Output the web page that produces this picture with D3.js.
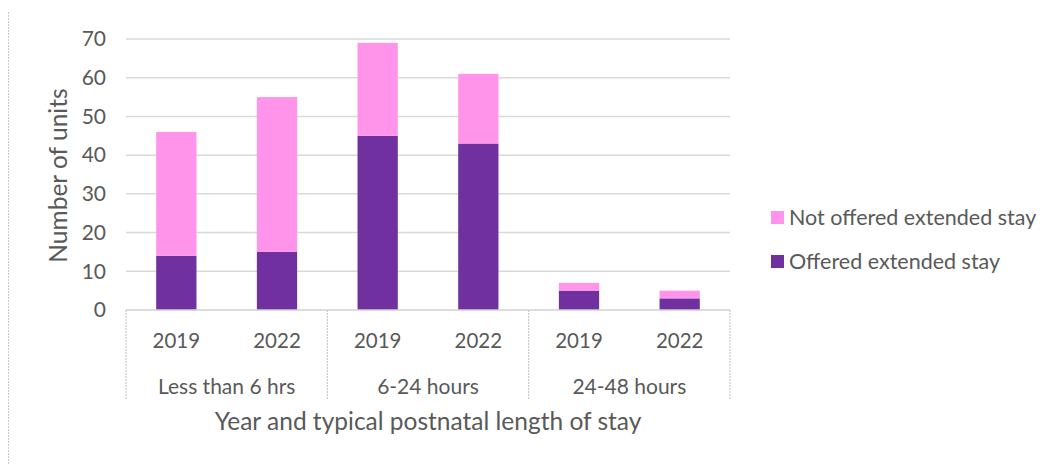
<!DOCTYPE html>
<html>
<head>
<meta charset="utf-8">
<script src="https://cdn.jsdelivr.net/npm/d3@7"></script>
<style>
  body { margin: 0; background: #fff; }
  text { font-family: Lato, "Open Sans", sans-serif; fill: #595959; }
</style>
</head>
<body>
<script>
var groups = ["Less than 6 hrs", "6-24 hours", "24-48 hours"];
var years = ["2019", "2022"];
var offered = [14, 15, 45, 43, 5, 3];
var notOffered = [32, 40, 24, 18, 2, 2];
var yTicks = [0, 10, 20, 30, 40, 50, 60, 70];
var seriesNames = ["Not offered extended stay", "Offered extended stay"];
var colors = { offered: "#7030a0", notOffered: "#ff94ea" };

var W = 1058, H = 464;
var margin = { top: 39, left: 126, right: 328, bottom: 154 };
var width = W - margin.left - margin.right;
var height = H - margin.top - margin.bottom;

var svg = d3.select("body").append("svg")
    .attr("width", W)
    .attr("height", H);

// chart frame edge (dotted)
svg.append("line")
    .attr("x1", 8.5).attr("x2", 8.5)
    .attr("y1", 12).attr("y2", H)
    .attr("stroke", "#c8c8c8")
    .attr("stroke-dasharray", "2,1");

var g = svg.append("g")
    .attr("transform", "translate(" + margin.left + "," + margin.top + ")");

var data = [];
groups.forEach(function(grp, i) {
  years.forEach(function(yr, j) {
    var k = i * years.length + j;
    data.push({ group: grp, year: yr, offered: offered[k], notOffered: notOffered[k] });
  });
});

var x0 = d3.scaleBand().domain(groups).range([0, width]);
var x1 = d3.scaleBand().domain(years).range([0, x0.bandwidth()]).paddingInner(0.6).paddingOuter(0.3);

var y = d3.scaleLinear().domain([0, 70]).range([height, 0]);

// gridlines
g.selectAll(".grid")
    .data(yTicks.slice(1))
  .enter().append("line")
    .attr("x1", 0).attr("x2", width)
    .attr("y1", function(d) { return y(d); })
    .attr("y2", function(d) { return y(d); })
    .attr("stroke", "#d9d9d9")
    .attr("stroke-width", 1.5);

// y axis labels
var yAxis = d3.axisLeft(y).tickValues(yTicks).tickSize(0).tickPadding(20);
var yg = g.append("g").call(yAxis);
yg.select(".domain").remove();
yg.selectAll("text")
    .style("font-size", "21px")
    .style("fill", "#595959")
    .style("font-family", "Lato, sans-serif");

// bars
var stack = d3.stack().keys(["offered", "notOffered"]);
var series = stack(data);

g.selectAll(".series")
    .data(series)
  .enter().append("g")
    .attr("fill", function(d) { return colors[d.key]; })
  .selectAll("rect")
    .data(function(d) { return d; })
  .enter().append("rect")
    .attr("x", function(d) { return x0(d.data.group) + x1(d.data.year); })
    .attr("width", x1.bandwidth())
    .attr("y", function(d) { return y(d[1]); })
    .attr("height", function(d) { return y(d[0]) - y(d[1]); });

// baseline
g.append("line")
    .attr("x1", 0).attr("x2", width)
    .attr("y1", height).attr("y2", height)
    .attr("stroke", "#d0d0d0")
    .attr("stroke-width", 1.5);

// group separators
var seps = groups.map(function(grp) { return x0(grp); }).concat([width]);
g.selectAll(".sep")
    .data(seps)
  .enter().append("line")
    .attr("x1", function(d) { return d; })
    .attr("x2", function(d) { return d; })
    .attr("y1", height).attr("y2", height + 90)
    .attr("stroke", "#c8c8c8")
    .attr("stroke-width", 1.2)
    .attr("stroke-dasharray", "2,1");

// year labels
g.selectAll(".yr")
    .data(data)
  .enter().append("text")
    .attr("x", function(d) { return x0(d.group) + x1(d.year) + x1.bandwidth() / 2; })
    .attr("y", height + 38)
    .attr("text-anchor", "middle")
    .style("font-size", "20.5px")
    .text(function(d) { return d.year; });

// group labels
g.selectAll(".grp")
    .data(groups)
  .enter().append("text")
    .attr("x", function(d) { return x0(d) + x0.bandwidth() / 2; })
    .attr("y", height + 84)
    .attr("text-anchor", "middle")
    .style("font-size", "21px")
    .text(function(d) { return d; });

// axis titles
g.append("text")
    .attr("x", width / 2)
    .attr("y", height + 120)
    .attr("text-anchor", "middle")
    .style("font-size", "24.5px")
    .text("Year and typical postnatal length of stay");

g.append("text")
    .attr("transform", "translate(" + (-59) + "," + (height / 2 + 1) + ") rotate(-90)")
    .attr("text-anchor", "middle")
    .style("font-size", "24.5px")
    .text("Number of units");

// legend
var legend = svg.append("g").attr("transform", "translate(771,211)");
var legendColors = [colors.notOffered, colors.offered];
seriesNames.forEach(function(name, i) {
  var row = legend.append("g").attr("transform", "translate(0," + (i * 44) + ")");
  row.append("rect")
      .attr("width", 13).attr("height", 13)
      .attr("fill", legendColors[i]);
  row.append("text")
      .attr("x", 18).attr("y", 14)
      .style("font-size", "21.5px")
      .text(name);
});
</script>
</body>
</html>
